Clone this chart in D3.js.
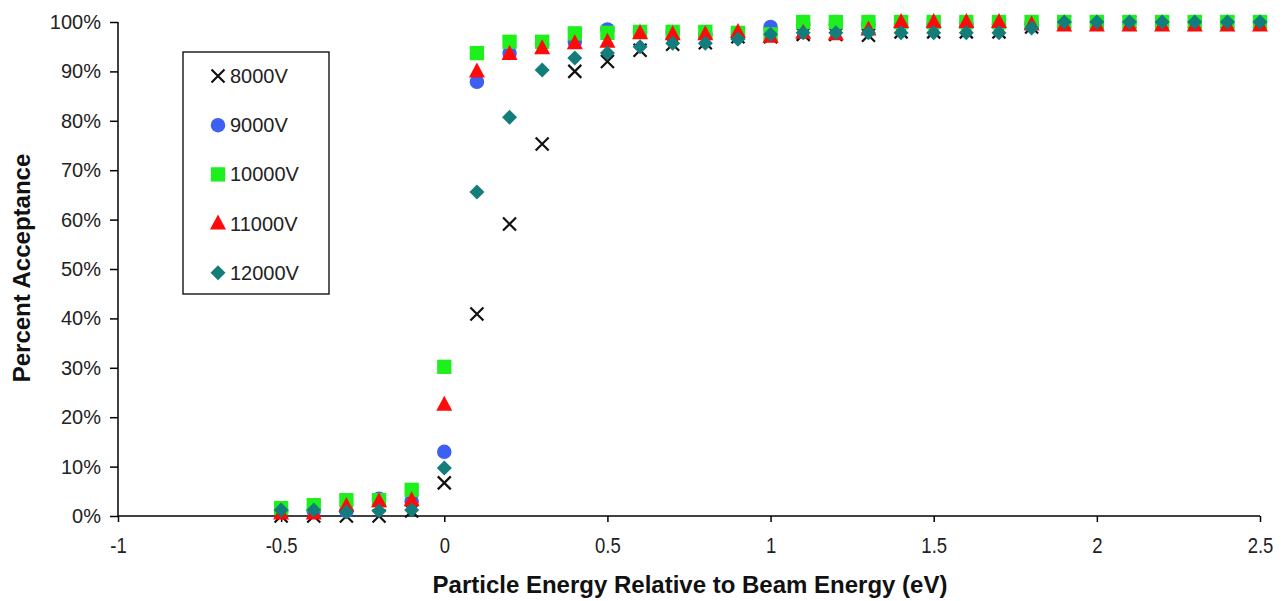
<!DOCTYPE html>
<html>
<head>
<meta charset="utf-8">
<script src="https://cdn.jsdelivr.net/npm/d3@7"></script>
<style>
  html, body { margin: 0; padding: 0; background: #fff; }
  svg { display: block; font-family: "Liberation Sans", Arial, sans-serif; }
</style>
</head>
<body>
<svg id="chart" width="1288" height="601"></svg>
<script>
// ---- Data ----
const energies = [-0.5,-0.4,-0.3,-0.2,-0.1,0,0.1,0.2,0.3,0.4,0.5,0.6,0.7,0.8,0.9,1.0,1.1,1.2,1.3,1.4,1.5,1.6,1.7,1.8,1.9,2.0,2.1,2.2,2.3,2.4,2.5];
const v8000  = [0,0,0,0,1,6.7,40.9,59.1,75.3,90,92,94.3,95.5,95.8,97,97,97.5,97.5,97.3,98,98,98,98,99,100,100,100,100,100,100,100];
const v9000  = [1,1,1,3.5,3,13,87.9,93.7,95.5,96,98.5,98,98,97.5,97.5,99,99.5,99.5,99.5,99.5,99.5,99.5,99.5,99.5,100,100,100,100,100,100,100];
const v10000 = [1.6,2.2,3.2,3.2,5.3,30.2,93.7,96,96,97.7,97.8,98,98,98,97.8,97.5,100,100,100,100,100,100,100,100,100,100,100,100,100,100,100];
const v11000 = [0.5,0.5,2,3,3.2,22.5,90,93.5,94.7,95.7,96,97.7,97.5,97.5,98,97,97.8,97.5,98.5,100,100,100,100,99.5,99.3,99.3,99.3,99.3,99.3,99.3,99.3];
const v12000 = [1.2,1.2,0.8,1,1.2,9.7,65.6,80.7,90.3,92.7,93.7,95,95.7,95.7,96.5,97.5,97.8,97.8,97.8,97.8,97.8,97.8,97.8,98.8,100,100,100,100,100,100,100];
const seriesNames = ["8000V","9000V","10000V","11000V","12000V"];
const xTicks = [-1,-0.5,0,0.5,1,1.5,2,2.5];
const yTicks = [0,10,20,30,40,50,60,70,80,90,100];

const seriesList = [
  {name: seriesNames[0], values: v8000,  shape: "x",        color: "#111111"},
  {name: seriesNames[1], values: v9000,  shape: "circle",   color: "#3d5ff2"},
  {name: seriesNames[2], values: v10000, shape: "square",   color: "#1ef01e"},
  {name: seriesNames[3], values: v11000, shape: "triangle", color: "#ff0a0a"},
  {name: seriesNames[4], values: v12000, shape: "diamond",  color: "#137d7b"}
];

// ---- Layout ----
const svg = d3.select("#chart");
const plotL = 118, plotR = 1260, plotT = 22, plotB = 516;
const x = d3.scaleLinear().domain([-1, 2.5]).range([plotL, plotR]);
const y = d3.scaleLinear().domain([0, 100]).range([plotB, plotT]);

// marker drawing
function drawMarker(g, shape, color) {
  if (shape === "x") {
    const s = 6.5;
    g.append("path")
      .attr("d", `M${-s},${-s}L${s},${s}M${-s},${s}L${s},${-s}`)
      .attr("stroke", color).attr("stroke-width", 2.2).attr("fill", "none");
  } else if (shape === "circle") {
    g.append("path").attr("d", d3.symbol(d3.symbolCircle, 165)()).attr("fill", color);
  } else if (shape === "square") {
    g.append("path").attr("d", d3.symbol(d3.symbolSquare, 205)()).attr("fill", color);
  } else if (shape === "triangle") {
    g.append("path").attr("d", "M0,-9L8,6L-8,6Z").attr("fill", color);
  } else if (shape === "diamond") {
    g.append("path").attr("d", "M0,-7.5L7.5,0L0,7.5L-7.5,0Z").attr("fill", color);
  }
}

// ---- Axes ----
const yAxis = d3.axisLeft(y).tickValues(yTicks).tickFormat(d => d + "%").tickSize(8).tickPadding(9);
const xAxis = d3.axisBottom(x).tickValues(xTicks).tickFormat(d => String(d)).tickSize(6);

const gy = svg.append("g").attr("transform", `translate(${plotL},0)`).call(yAxis);
gy.select(".domain").attr("d", `M0,${plotT}V${plotB}`).attr("stroke", "#000").attr("stroke-width", 1.5);
gy.selectAll(".tick line").attr("stroke", "#000").attr("stroke-width", 1.5);
gy.selectAll(".tick text").attr("font-size", 20).attr("fill", "#222")
  .attr("font-family", "'Liberation Sans', Arial, sans-serif");

const gx = svg.append("g").attr("transform", `translate(0,${plotB})`).call(xAxis);
gx.select(".domain").attr("d", `M${plotL},0H${plotR}`).attr("stroke", "#000").attr("stroke-width", 1.5);
gx.selectAll(".tick line").attr("stroke", "#000").attr("stroke-width", 1.5);
gx.selectAll(".tick text").attr("font-size", 18.5).attr("fill", "#222")
  .attr("font-family", "'Liberation Sans', Arial, sans-serif")
  .attr("y", 0).attr("dy", 0)
  .attr("transform", "translate(0,37) scale(1,1.22)");

// ---- Points ----
seriesList.forEach(s => {
  const g = svg.append("g");
  s.values.forEach((v, i) => {
    const pg = g.append("g").attr("transform", `translate(${x(energies[i])},${y(v)})`);
    drawMarker(pg, s.shape, s.color);
  });
});

// ---- Axis titles ----
svg.append("text")
  .attr("x", 690).attr("y", 593)
  .attr("text-anchor", "middle").attr("font-size", 24).attr("font-weight", "bold").attr("fill", "#111")
  .text("Particle Energy Relative to Beam Energy (eV)");

svg.append("text")
  .attr("transform", `translate(30,268) rotate(-90)`)
  .attr("text-anchor", "middle").attr("font-size", 24).attr("font-weight", "bold").attr("fill", "#111")
  .text("Percent Acceptance");

// ---- Legend ----
const lg = svg.append("g").attr("transform", "translate(183,52)");
lg.append("rect").attr("width", 146).attr("height", 242)
  .attr("fill", "#fff").attr("stroke", "#000").attr("stroke-width", 1.3);
seriesList.forEach((s, i) => {
  const row = lg.append("g").attr("transform", `translate(35,${24 + i * 49.2})`);
  drawMarker(row, s.shape, s.color);
  row.append("text").attr("x", 12).attr("y", 7).attr("font-size", 20).attr("fill", "#222")
    .text(s.name);
});
</script>
</body>
</html>
